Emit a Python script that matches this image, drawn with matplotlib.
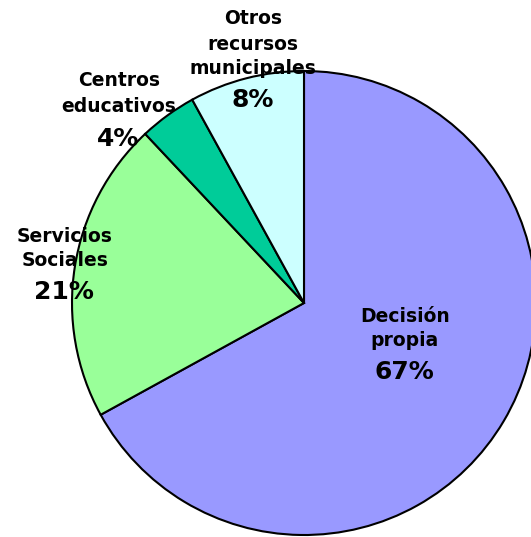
import matplotlib
matplotlib.use("Agg")
import matplotlib.pyplot as plt

categories = ["Decisión\npropia", "Servicios\nSociales", "Centros\neducativos", "Otros\nrecursos\nmunicipales"]
values = [67, 21, 4, 8]
colors = ["#9999FF", "#99FF99", "#00CC99", "#CCFFFF"]

W, H = 531, 537
fig = plt.figure(figsize=(W / 100, H / 100), dpi=100)
ax = fig.add_axes([0, 0, 1, 1])

cx, cy, r = 304, H - 303, 232
ax.pie(values, colors=colors, startangle=90, counterclock=False,
       center=(cx, cy), radius=r, frame=True,
       wedgeprops=dict(edgecolor="black", linewidth=1.5))
ax.set_xlim(0, W)
ax.set_ylim(0, H)
ax.set_aspect("equal")
ax.axis("off")

# label positions in pixels (first name line, percent)
name_pos = [(405, 316), (65, 236), (119, 81), (253, 19)]
pct_pos = [(404, 372), (64, 292), (118, 139), (253, 100)]

for name, v, (nx, ny), (px, py) in zip(categories, values, name_pos, pct_pos):
    for i, line in enumerate(name.split("\n")):
        ax.text(nx, H - (ny + 25 * i), line, ha="center", va="center",
                fontsize=13.5, fontweight="bold", zorder=10)
    ax.text(px, H - py, f"{v}%", ha="center", va="center",
            fontsize=18, fontweight="bold", zorder=10)

fig.savefig("out.png", dpi=100)
